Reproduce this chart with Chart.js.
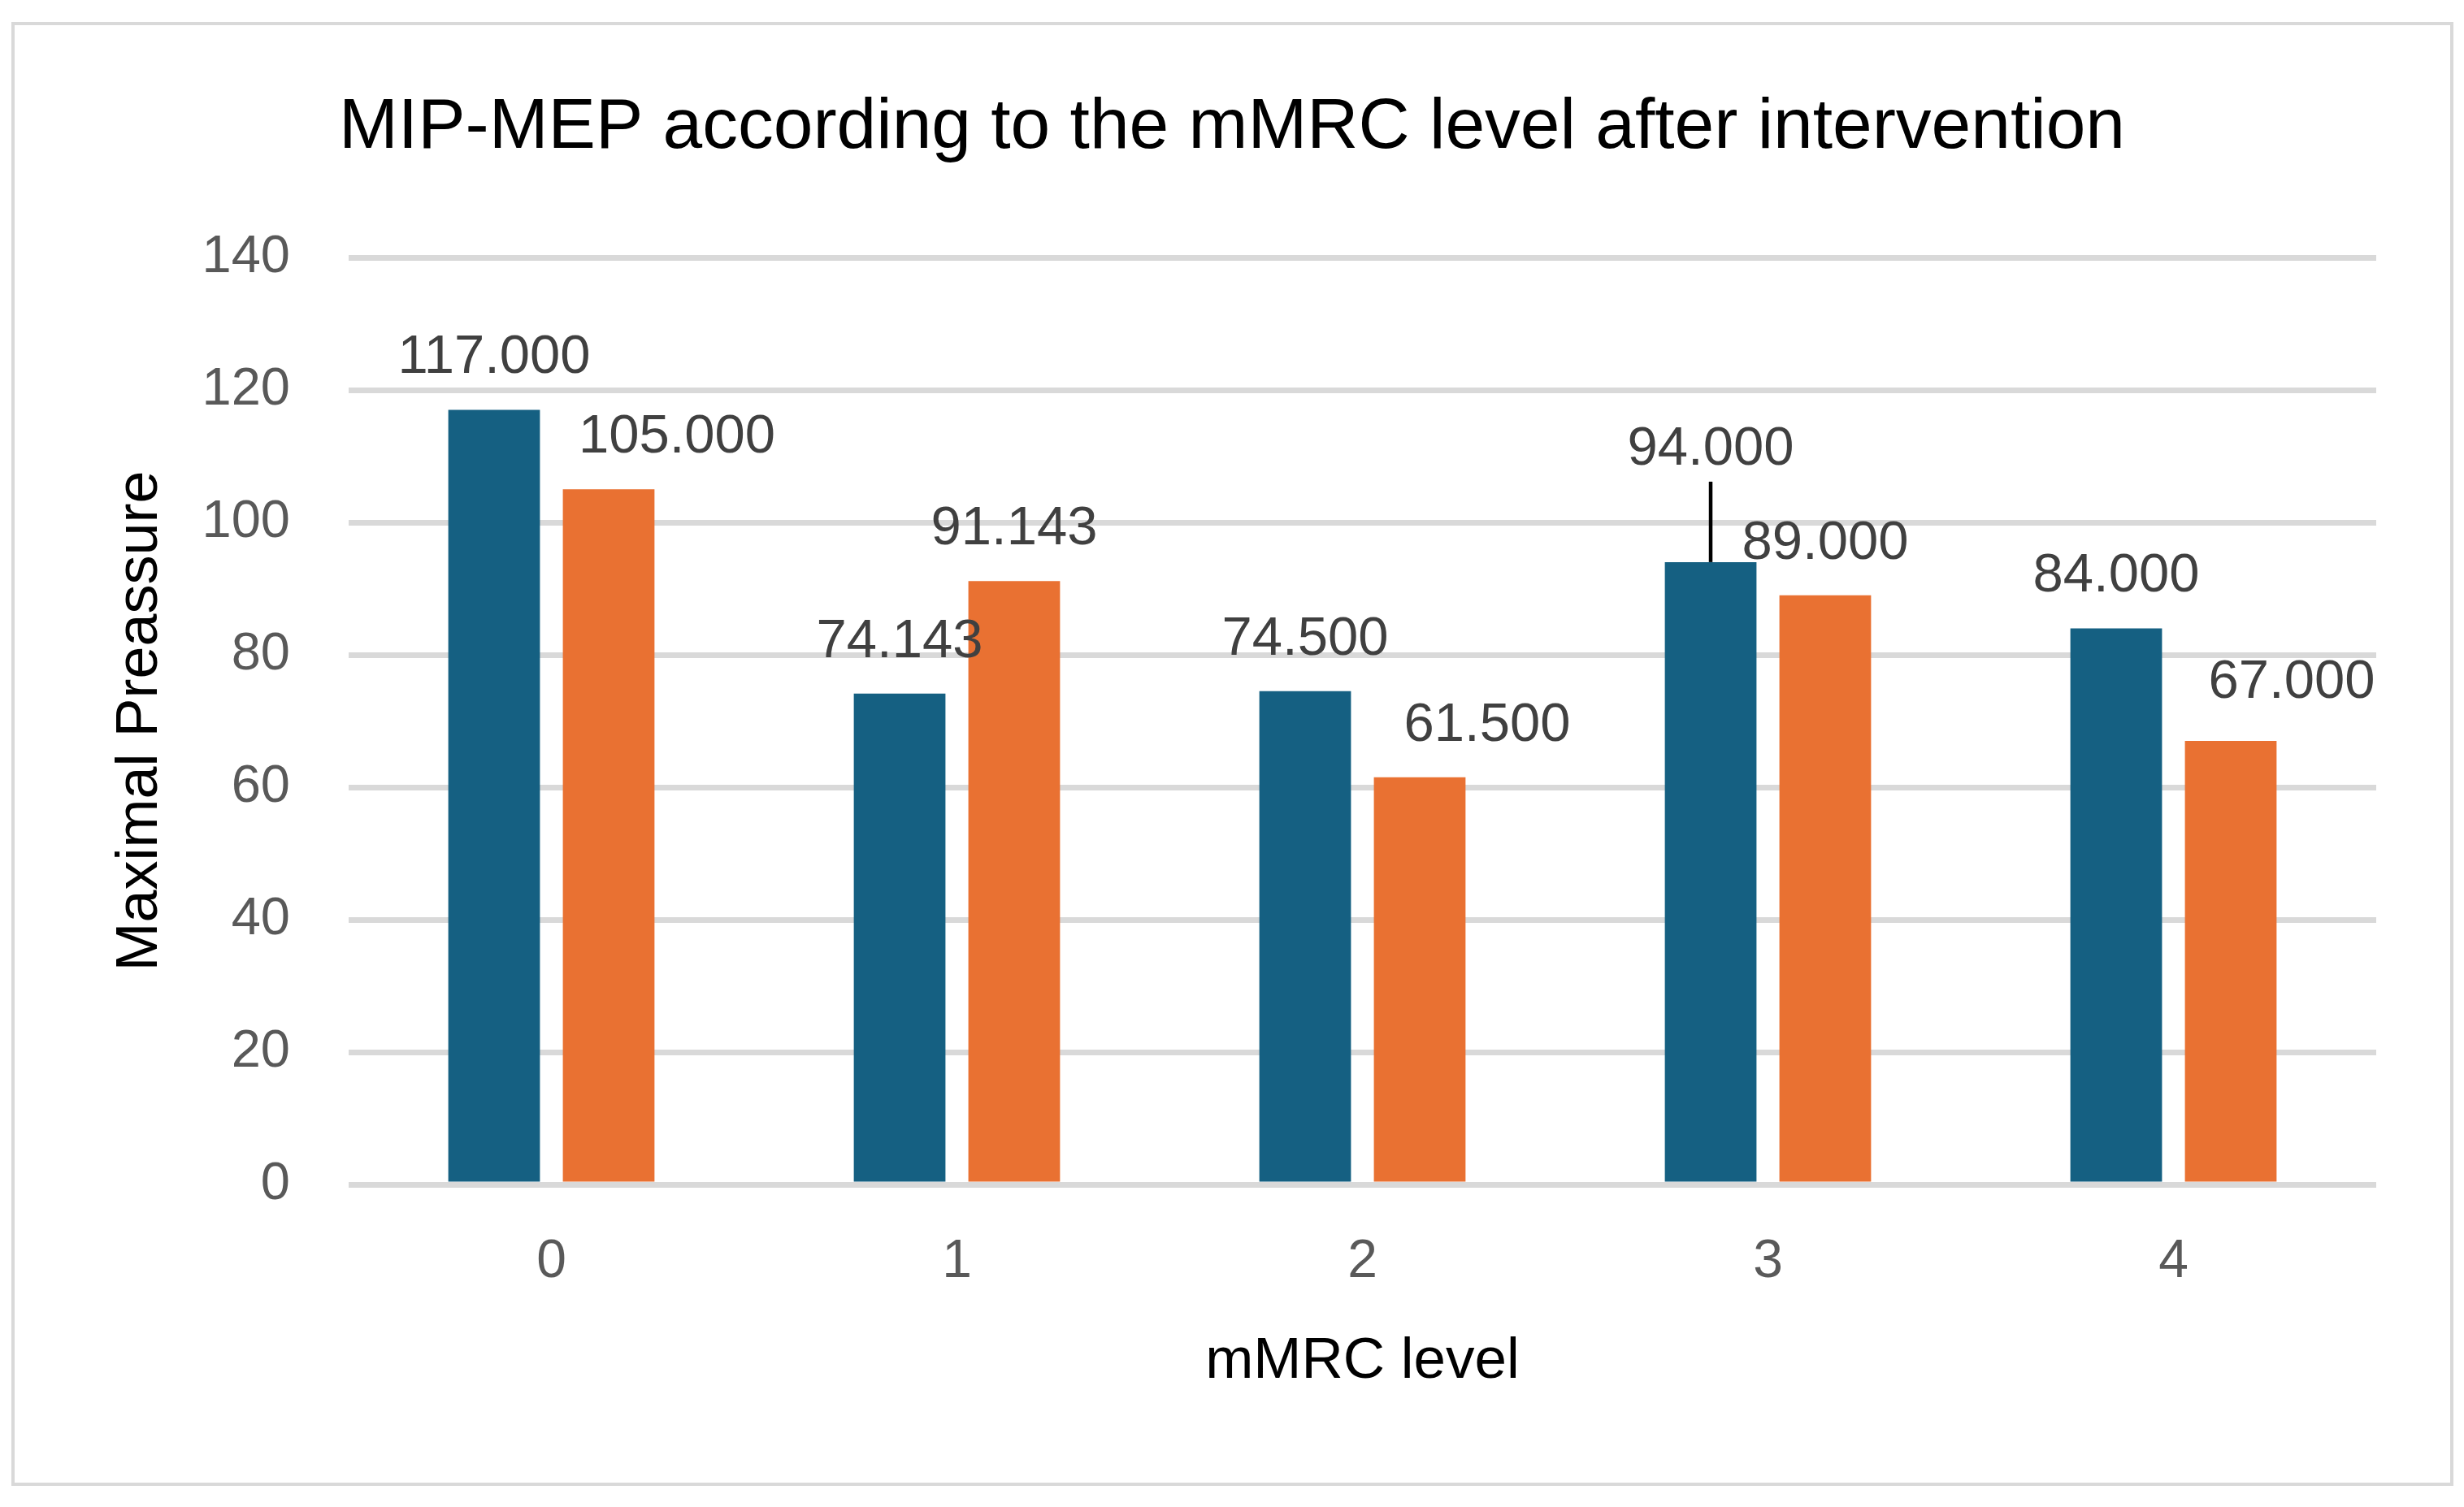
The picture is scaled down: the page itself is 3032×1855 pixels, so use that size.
<!DOCTYPE html>
<html>
<head>
<meta charset="utf-8">
<script src="https://cdn.jsdelivr.net/npm/chart.js@4.4.1/dist/chart.umd.min.js"></script>
<style>
  html, body { margin: 0; padding: 0; background: #ffffff; }
  #wrap { position: relative; width: 3032px; height: 1855px; }
  canvas { display: block; }
</style>
</head>
<body>
<div id="wrap"><canvas id="chart" width="3032" height="1855" style="width:3032px;height:1855px"></canvas></div>
<script>
// ---- data ----
const categories = ['0', '1', '2', '3', '4'];
const seriesNames = ['MIP', 'MEP'];
const mipValues = [117.000, 74.143, 74.500, 94.000, 84.000];
const mepValues = [105.000, 91.143, 61.500, 89.000, 67.000];
const yTickValues = [0, 20, 40, 60, 80, 100, 120, 140];

const chartTitle = 'MIP-MEP according to the mMRC level after intervention';
const xAxisTitle = 'mMRC level';
const yAxisTitle = 'Maximal Preassure';

// ---- styling (kept apart from the data) ----
const FONT = '"Liberation Sans", Arial, sans-serif';
const colors = ['#156082', '#E97132'];
// manual label nudges (px) as in the reference, per series / category
const labelShiftX = [[0, 0, 0, 0, 0], [84, 0, 83, 0, 75]];
const labelShiftY = [[0, 0, 0, -75, 0], [0, 0, 0, 0, -8]];
const leaderLine = [[false, false, false, true, false], [false, false, false, false, false]];

const framePlugin = {
  id: 'frame',
  beforeDraw(chart) {
    const ctx = chart.ctx;
    ctx.save();
    ctx.fillStyle = '#ffffff';
    ctx.fillRect(0, 0, chart.width, chart.height);
    ctx.strokeStyle = '#d9d9d9';
    ctx.lineWidth = 4;
    ctx.strokeRect(16, 29, 3001, 1798);
    ctx.restore();
  }
};

const valueLabels = {
  id: 'valueLabels',
  afterDatasetsDraw(chart) {
    const ctx = chart.ctx;
    ctx.save();
    ctx.font = '67px ' + FONT;
    ctx.fillStyle = '#404040';
    ctx.textAlign = 'center';
    ctx.textBaseline = 'alphabetic';
    chart.data.datasets.forEach((ds, di) => {
      const meta = chart.getDatasetMeta(di);
      meta.data.forEach((bar, i) => {
        if (leaderLine[di][i]) {
          ctx.save();
          ctx.strokeStyle = '#000000';
          ctx.lineWidth = 4.5;
          ctx.beginPath();
          ctx.moveTo(bar.x, bar.y);
          ctx.lineTo(bar.x, bar.y - 99);
          ctx.stroke();
          ctx.restore();
        }
        const x = bar.x + labelShiftX[di][i];
        const y = bar.y - 45 + labelShiftY[di][i];
        ctx.fillText(Number(ds.data[i]).toFixed(3), x, y);
      });
    });
    ctx.restore();
  }
};

new Chart(document.getElementById('chart'), {
  type: 'bar',
  data: {
    labels: categories,
    datasets: [
      { label: seriesNames[0], data: mipValues, backgroundColor: colors[0], categoryPercentage: 0.565, barPercentage: 0.8 },
      { label: seriesNames[1], data: mepValues, backgroundColor: colors[1], categoryPercentage: 0.565, barPercentage: 0.8 }
    ]
  },
  options: {
    responsive: false,
    animation: false,
    devicePixelRatio: 1,
    layout: { padding: { left: 108, right: 108, top: 0, bottom: 0 } },
    plugins: {
      legend: { display: false },
      tooltip: { enabled: false },
      title: {
        display: true,
        text: chartTitle,
        color: '#000000',
        font: { family: FONT, size: 87.5, weight: 'normal', lineHeight: 1.2 },
        padding: { top: 105, bottom: 107 }
      }
    },
    scales: {
      x: {
        grid: { display: false, drawTicks: false },
        border: { display: false },
        ticks: { padding: 56, color: '#595959', font: { family: FONT, size: 66 } },
        title: {
          display: true, text: xAxisTitle, color: '#000000',
          font: { family: FONT, size: 71, lineHeight: 1.2 },
          padding: { top: 0, bottom: 136 }
        },
        afterFit(scale) { scale.height = 397; }
      },
      y: {
        min: 0, max: 140,
        afterBuildTicks(scale) { scale.ticks = yTickValues.map(v => ({ value: v })); },
        grid: { color: '#d9d9d9', lineWidth: 7, drawTicks: false },
        border: { display: false },
        ticks: { padding: 72, color: '#595959', font: { family: FONT, size: 65 } },
        title: {
          display: true, text: yAxisTitle, color: '#000000',
          font: { family: FONT, size: 72, lineHeight: 1.2 },
          padding: { top: 22, bottom: 0 }
        },
        afterFit(scale) { scale.width = 321; }
      }
    }
  },
  plugins: [framePlugin, valueLabels]
});
</script>
</body>
</html>
